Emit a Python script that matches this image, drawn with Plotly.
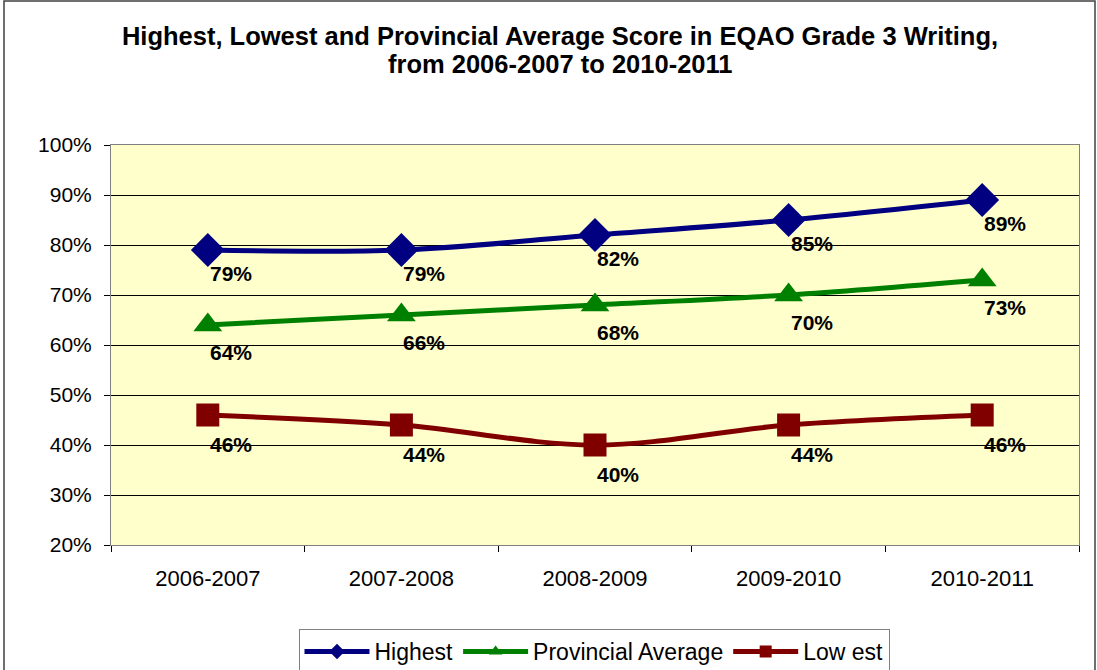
import plotly.graph_objects as go

categories = ["2006-2007", "2007-2008", "2008-2009", "2009-2010", "2010-2011"]
highest = [79, 79, 82, 85, 89]
provincial = [64, 66, 68, 70, 73]
lowest = [46, 44, 40, 44, 46]
y_ticks = [20, 30, 40, 50, 60, 70, 80, 90, 100]
y_tick_labels = [f"{v}%" for v in y_ticks]

FONT = "Liberation Sans, Arial, sans-serif"

series = [
    ("Highest", highest, "#000080", "diamond", 26, -23),
    ("Provincial Average", provincial, "#008000", "triangle-up", 25, -27),
    ("Low est", lowest, "#800000", "square", 23, -29),
]

fig = go.Figure()
for name, vals, color, sym, size, dy in series:
    fig.add_trace(go.Scatter(
        x=categories, y=vals, name=name, mode="lines+markers",
        line=dict(color=color, width=5, shape="spline", smoothing=1),
        marker=dict(symbol=sym, size=size, color=color),
    ))
    for c, v in zip(categories, vals):
        fig.add_annotation(
            x=c, y=v, text=f"<b>{v}%</b>", showarrow=False,
            xshift=23, yshift=dy,
            font=dict(family=FONT, size=21, color="black"),
        )

W, H = 1097, 670
L, R, T, B = 111, 18, 145, 125
pw, ph = W - L - R, H - T - B

def px_x(p):
    return (p - L) / pw

def px_y(p):
    return (H - B - p) / ph

# second title line
fig.add_annotation(
    xref="paper", yref="paper", x=px_x(560), y=px_y(64),
    xanchor="center", yanchor="middle", showarrow=False,
    text="<b>from 2006-2007 to 2010-2011</b>",
    font=dict(family=FONT, size=25.5, color="black"),
)

# outer chart border
fig.add_shape(type="rect", xref="paper", yref="paper",
              x0=px_x(4), x1=px_x(1095), y0=px_y(672), y1=px_y(1),
              line=dict(color="#404040", width=1.5), layer="below")

fig.update_layout(
    width=W, height=H,
    margin=dict(l=L, r=R, t=T, b=B, autoexpand=False),
    paper_bgcolor="white",
    plot_bgcolor="#FFFFCC",
    title=dict(
        text="<b>Highest, Lowest and Provincial Average Score in EQAO Grade 3 Writing,</b>",
        x=560 / W, xanchor="center", y=1 - 36 / H, yanchor="middle",
        font=dict(family=FONT, size=25.5, color="black"),
    ),
    font=dict(family=FONT, size=20, color="black"),
    showlegend=True,
    legend=dict(
        orientation="h", x=px_x(594), xanchor="center", y=px_y(629), yanchor="top",
        bordercolor="#808080", borderwidth=1, bgcolor="white",
        font=dict(family=FONT, size=23, color="black"),
        itemwidth=65, tracegroupgap=0, itemsizing="constant",
    ),
    xaxis=dict(
        type="category", range=[-0.5, 4.5],
        showgrid=False, showline=True, linecolor="#808080", linewidth=1, mirror=True,
        ticks="outside", tickson="boundaries", ticklen=6, tickcolor="black",
        tickfont=dict(family=FONT, size=22), ticklabelstandoff=14,
    ),
    yaxis=dict(
        range=[20, 100], tickvals=y_ticks, ticktext=y_tick_labels,
        showgrid=True, gridcolor="black", gridwidth=1,
        showline=True, linecolor="#808080", linewidth=1, mirror=True,
        ticks="outside", ticklen=6, tickcolor="black",
        tickfont=dict(family=FONT, size=21), zeroline=False, ticklabelstandoff=8,
    ),
)

fig.write_html("out.html", config={"displayModeBar": False},
               post_script="document.body.style.margin='0';document.body.style.overflow='hidden';")
